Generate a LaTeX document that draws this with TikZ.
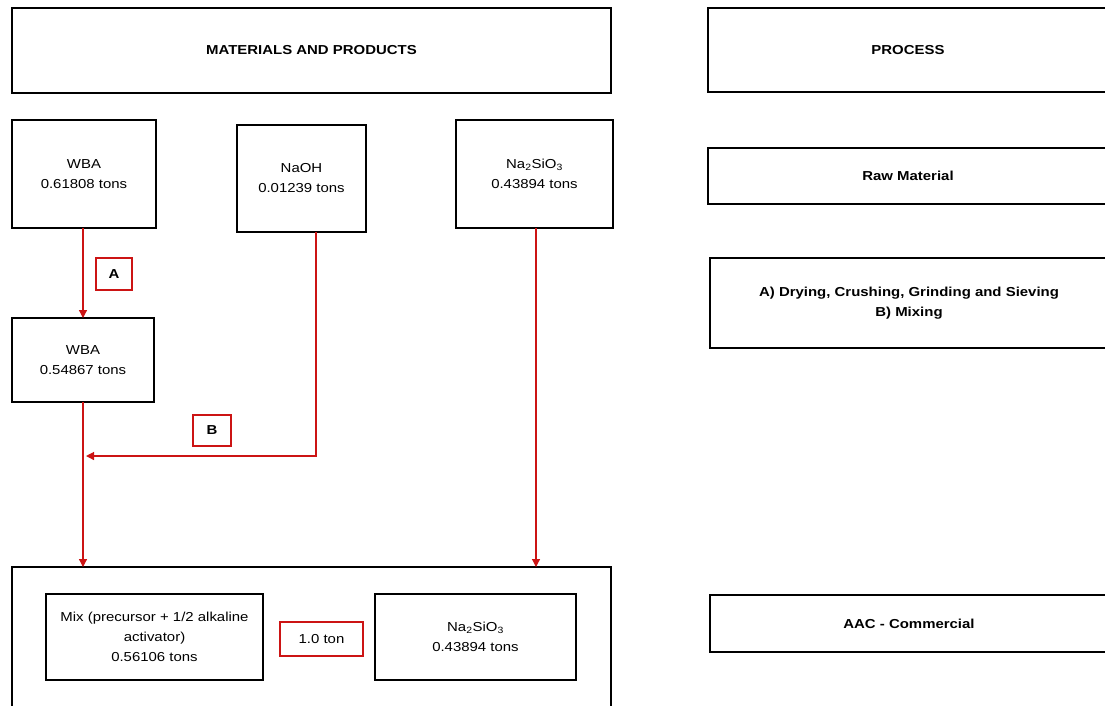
\documentclass[tikz,border=0pt]{standalone}
\usepackage{fontspec}
\setmainfont{Liberation Sans}[FakeStretch=1.15]
\usetikzlibrary{arrows.meta}
\definecolor{flowred}{RGB}{204,20,20}
\tikzset{
  box/.style={draw=black, line width=1.1pt, inner sep=0pt, outer sep=0pt, align=center,
              font=\fontsize{13}{20}\selectfont},
  hbox/.style={box, font=\fontsize{13}{20}\selectfont\bfseries},
  lab/.style={draw=flowred, line width=1.1pt, inner sep=0pt, outer sep=0pt, align=center,
              font=\fontsize{13}{20}\selectfont},
  arr/.style={draw=flowred, line width=1.2pt, -{Triangle[length=8pt,width=8pt]}},
}
\begin{document}
\begin{tikzpicture}[x=1pt,y=-1pt]
\useasboundingbox (0,0) rectangle (1105,705);
% headers
\node[hbox, minimum width=599, minimum height=85] (hdrL) at (311.5,50.5) {MATERIALS AND PRODUCTS};
\node[hbox, minimum width=400, minimum height=84] (hdrR) at (908,50) {PROCESS};
% process column
\node[hbox, minimum width=400, minimum height=56] (raw) at (908,176) {Raw Material};
\node[hbox, minimum width=398, minimum height=90] (proc) at (909,303) {A) Drying, Crushing, Grinding and Sieving\\B) Mixing};
\node[hbox, minimum width=398, minimum height=57] (aac) at (909,623.5) {AAC - Commercial};
% materials
\node[box, minimum width=144, minimum height=108] (wba1) at (84,174) {WBA\\0.61808 tons};
\node[box, minimum width=129, minimum height=107] (naoh) at (301.5,178.5) {NaOH\\0.01239 tons};
\node[box, minimum width=157, minimum height=108] (nas1) at (534.5,174) {Na\textsubscript{2}SiO\textsubscript{3}\\0.43894 tons};
\node[box, minimum width=142, minimum height=84] (wba2) at (83,360) {WBA\\0.54867 tons};
\node[lab, minimum width=36, minimum height=32, font=\fontsize{13}{20}\selectfont\bfseries] (labA) at (114,274) {A};
\node[lab, minimum width=38, minimum height=31, font=\fontsize{13}{20}\selectfont\bfseries] (labB) at (212,430.5) {B};
% product
\node[box, minimum width=599, minimum height=153] (big) at (311.5,643.5) {};
\node[box, minimum width=217, minimum height=86] (mix) at (154.5,637) {Mix (precursor + 1/2 alkaline\\activator)\\0.56106 tons};
\node[lab, minimum width=83, minimum height=34] (ton) at (321.5,639) {1.0 ton};
\node[box, minimum width=201, minimum height=86] (nas2) at (475.5,637) {Na\textsubscript{2}SiO\textsubscript{3}\\0.43894 tons};
% connectors
\coordinate (bj) at (86,456);
\draw[arr] (wba2.north |- wba1.south) -- (wba2.north);
\draw[arr] (wba2.south) -- (wba2.south |- big.north);
\draw[arr] ([xshift=14.5pt]naoh.south) |- (bj);
\draw[arr] ([xshift=1.5pt]nas1.south) -- ([xshift=1.5pt]nas1.south |- big.north);
\end{tikzpicture}
\end{document}
